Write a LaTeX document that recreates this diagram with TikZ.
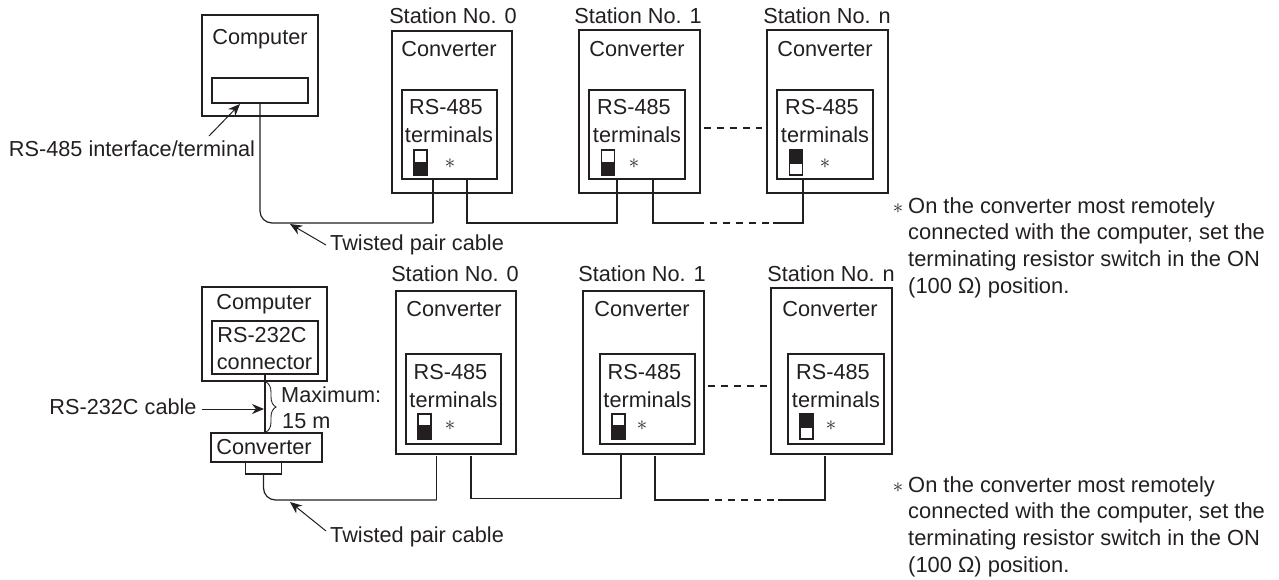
\documentclass[tikz,border=0pt]{standalone}
\usepackage{fontspec}
\setmainfont{Liberation Sans}
\usetikzlibrary{arrows.meta,decorations.pathreplacing}
\definecolor{inkdark}{HTML}{231F20}
\newcommand{\starsign}{\raisebox{-5.5pt}[0pt][0pt]{$\ast$}}
\tikzset{
    outerbox/.style={draw=inkdark, line width=1.8pt, inner sep=0pt, minimum width=#1},
    innerbox/.style={draw=inkdark, line width=1.2pt, inner sep=0pt, minimum width=#1},
    word/.style={text=inkdark, inner sep=0pt, align=center, font=\fontsize{21.7}{27.5}\selectfont},
    note/.style={text=inkdark, inner sep=0pt, align=left, anchor=north west, font=\fontsize{21.9}{26.7}\selectfont},
    starmark/.style={text=inkdark, inner sep=0pt, font=\fontsize{22}{22}\selectfont},
    swoff/.style={draw=inkdark, line width=1.6pt, fill=white, inner sep=0pt, minimum width=13pt, minimum height=12.5pt},
    swon/.style={draw=inkdark, line width=1.6pt, fill=inkdark, inner sep=0pt, minimum width=13pt, minimum height=12.5pt},
    wire/.style={draw=inkdark, line width=1.2pt},
    pointer/.style={draw=inkdark, line width=1pt, -{Stealth[length=12pt,width=10pt]}}
}
\begin{document}
\begin{tikzpicture}[x=1pt, y=-1pt]
    \useasboundingbox (0,0) rectangle (1279,579);

    % Upper network: computer
    \node[outerbox=116pt, minimum height=101pt] (pcA) at (260,65.5) {};
    \node[word] (pcAtxt) at (260,39) {Computer};
    \node[innerbox=96pt, minimum height=25pt] (ifA) at (260,90.5) {};
    \node[word] (ifAtxt) at (132,149) {RS-485 interface/terminal};

    % Upper network: stations
    \node[word] (stA0) at (453,16) {Station No. 0};
    \node[word] (stA1) at (638,16) {Station No. 1};
    \node[word] (stAn) at (827,16) {Station No. n};
    \node[outerbox=120pt, minimum height=162pt] (convA0) at (452,112) {};
    \node[outerbox=121pt, minimum height=163pt] (convA1) at (639.5,111.5) {};
    \node[outerbox=121pt, minimum height=163pt] (convAn) at (827.5,111.5) {};
    \node[word] (convA0txt) at (449,49) {Converter};
    \node[word] (convA1txt) at (637,49) {Converter};
    \node[word] (convAntxt) at (825,49) {Converter};
    \node[innerbox=95pt, minimum height=89pt] (termA0) at (449.5,134.5) {};
    \node[innerbox=96pt, minimum height=89pt] (termA1) at (637,134.5) {};
    \node[innerbox=96pt, minimum height=89pt] (termAn) at (825,134.5) {};
    \node[word] (termA0txt) at (449,121) {RS-485\hspace*{6pt}\\terminals};
    \node[word] (termA1txt) at (637,121) {RS-485\hspace*{6pt}\\terminals};
    \node[word] (termAntxt) at (825,121) {RS-485\hspace*{6pt}\\terminals};

    % Upper network: terminating switches
    \node[swoff] (swA0a) at (420.5,156.5) {};
    \node[swon] (swA0b) at (420.5,169) {};
    \node[swoff] (swA1a) at (608,156.5) {};
    \node[swon] (swA1b) at (608,169) {};
    \node[swon] (swAna) at (796,156.5) {};
    \node[swoff] (swAnb) at (796,169) {};
    \node[starmark] (starA0) at (450,163) {\starsign};
    \node[starmark] (starA1) at (634,163) {\starsign};
    \node[starmark] (starAn) at (825,163) {\starsign};

    % Upper network: cable
    \coordinate (a0in) at (433,179);
    \coordinate (a0out) at (467,179);
    \coordinate (a1in) at (617,179);
    \coordinate (a1out) at (653,179);
    \coordinate (anin) at (803,179);
    \coordinate (a0low) at (433,223);
    \coordinate (a1low) at (617,223);
    \coordinate (adash1) at (697,223);
    \coordinate (adash2) at (773,223);
    \draw[wire, rounded corners=12pt] (ifA.south) |- (a0low);
    \draw[wire] (a0low) -- (a0in);
    \draw[wire] (a0out) |- (a1low) -- (a1in);
    \draw[wire] (a1out) |- (adash1);
    \draw[wire, dash pattern=on 7pt off 6pt] (adash1) -- (adash2);
    \draw[wire] (adash2) -| (anin);
    \draw[wire, dash pattern=on 7pt off 6pt] (convA1.east |- 0,128) ++(3,0) -- ([xshift=-4pt]convAn.west |- 0,128);

    % Upper network: callouts
    \node[word, anchor=west] (twistA) at (330,245) {Twisted pair cable};
    \coordinate (twistAtip) at (290,224);
    \coordinate (ifAtip) at (240,104);
    \coordinate (ifAtail) at (209,136);
    \draw[pointer] (twistA.west) ++(-4,0) -- (twistAtip);
    \draw[pointer] (ifAtail) -- (ifAtip);

    % Upper note
    \node[starmark] (starAnote) at (898,208) {\starsign};
    \node[note] (noteA) at (908,197) {On the converter most remotely\\connected with the computer, set the\\terminating resistor switch in the ON\\(100 Ω) position.};

    % Lower network: computer and converter
    \node[outerbox=125pt, minimum height=94pt] (pcB) at (264.5,334) {};
    \node[word] (pcBtxt) at (264,304) {Computer};
    \node[innerbox=106pt, minimum height=53pt] (ifB) at (265,347.5) {};
    \node[word] (ifBtxt) at (264.5,348.5) {RS-232C\hspace*{5pt}\\connector};
    \node[outerbox=111pt, minimum height=29pt, fill=white] (bridge) at (266.5,447.5) {};
    \node[word] (bridgetxt) at (264,447) {Converter};
    \node[innerbox=35.5pt, minimum height=12pt] (plug) at (263.5,468) {};

    % Lower network: stations
    \node[word] (stB0) at (455,274) {Station No. 0};
    \node[word] (stB1) at (642,274) {Station No. 1};
    \node[word] (stBn) at (831,274) {Station No. n};
    \node[outerbox=120pt, minimum height=163pt] (convB0) at (456,372.5) {};
    \node[outerbox=121pt, minimum height=163pt] (convB1) at (643.5,372.5) {};
    \node[outerbox=121pt, minimum height=166pt] (convBn) at (831.5,371) {};
    \node[word] (convB0txt) at (454,309) {Converter};
    \node[word] (convB1txt) at (642,309) {Converter};
    \node[word] (convBntxt) at (830,309) {Converter};
    \node[innerbox=95pt, minimum height=90pt] (termB0) at (453.5,399) {};
    \node[innerbox=95pt, minimum height=90pt] (termB1) at (647.5,399) {};
    \node[innerbox=96pt, minimum height=90pt] (termBn) at (836,399) {};
    \node[word] (termB0txt) at (453.5,386) {RS-485\hspace*{6pt}\\terminals};
    \node[word] (termB1txt) at (647.5,386) {RS-485\hspace*{6pt}\\terminals};
    \node[word] (termBntxt) at (836,386) {RS-485\hspace*{6pt}\\terminals};

    % Lower network: terminating switches
    \node[swoff] (swB0a) at (424.5,420) {};
    \node[swon] (swB0b) at (424.5,433) {};
    \node[swoff] (swB1a) at (618.5,420) {};
    \node[swon] (swB1b) at (618.5,433) {};
    \node[swon] (swBna) at (806.5,420) {};
    \node[swoff] (swBnb) at (806.5,433) {};
    \node[starmark] (starB0) at (450,425) {\starsign};
    \node[starmark] (starB1) at (642,425) {\starsign};
    \node[starmark] (starBn) at (831,425) {\starsign};

    % Lower network: cable
    \coordinate (b0in) at (436.5,456);
    \coordinate (b0out) at (471,456);
    \coordinate (b1in) at (621,454);
    \coordinate (b1out) at (655,456);
    \coordinate (bnin) at (825,456);
    \coordinate (b0low) at (436.5,500);
    \coordinate (b1low) at (621,498.5);
    \coordinate (bdash1) at (702,500);
    \coordinate (bdash2) at (778,500);
    \draw[wire] (ifB.south) -- (bridge.north -| ifB.south);
    \draw[wire, rounded corners=12pt] (plug.south) |- (b0low);
    \draw[wire] (b0low) -- (b0in);
    \draw[wire] (b0out) |- (b1low) -- (b1in);
    \draw[wire] (b1out) |- (bdash1);
    \draw[wire, dash pattern=on 7pt off 6pt] (bdash1) -- (bdash2);
    \draw[wire] (bdash2) -| (bnin);
    \draw[wire, dash pattern=on 7pt off 6pt] (convB1.east |- 0,386) ++(3,0) -- ([xshift=-3pt]convBn.west |- 0,386);

    % Lower network: callouts
    \coordinate (braceTop) at (266,382);
    \coordinate (braceBot) at (266,432);
    \draw[draw=inkdark, line width=0.9pt, decorate, decoration={brace, amplitude=10pt}] (braceTop) -- (braceBot);
    \node[word, anchor=west] (maxlen) at (281,395) {Maximum:};
    \node[word, anchor=west] (maxlenb) at (282,421) {15 m};
    \node[word] (rscable) at (123,407) {RS-232C cable};
    \coordinate (rscabletip) at (264,409);
    \draw[pointer] (rscable.east |- rscabletip) ++(5,0) -- (rscabletip);
    \node[word, anchor=west] (twistB) at (330,537) {Twisted pair cable};
    \coordinate (twistBtip) at (290,502);
    \draw[pointer] (twistB.west) ++(-4,-6) -- (twistBtip);

    % Lower note
    \node[starmark] (starBnote) at (898,487) {\starsign};
    \node[note] (noteB) at (908,476) {On the converter most remotely\\connected with the computer, set the\\terminating resistor switch in the ON\\(100 Ω) position.};
\end{tikzpicture}
\end{document}
